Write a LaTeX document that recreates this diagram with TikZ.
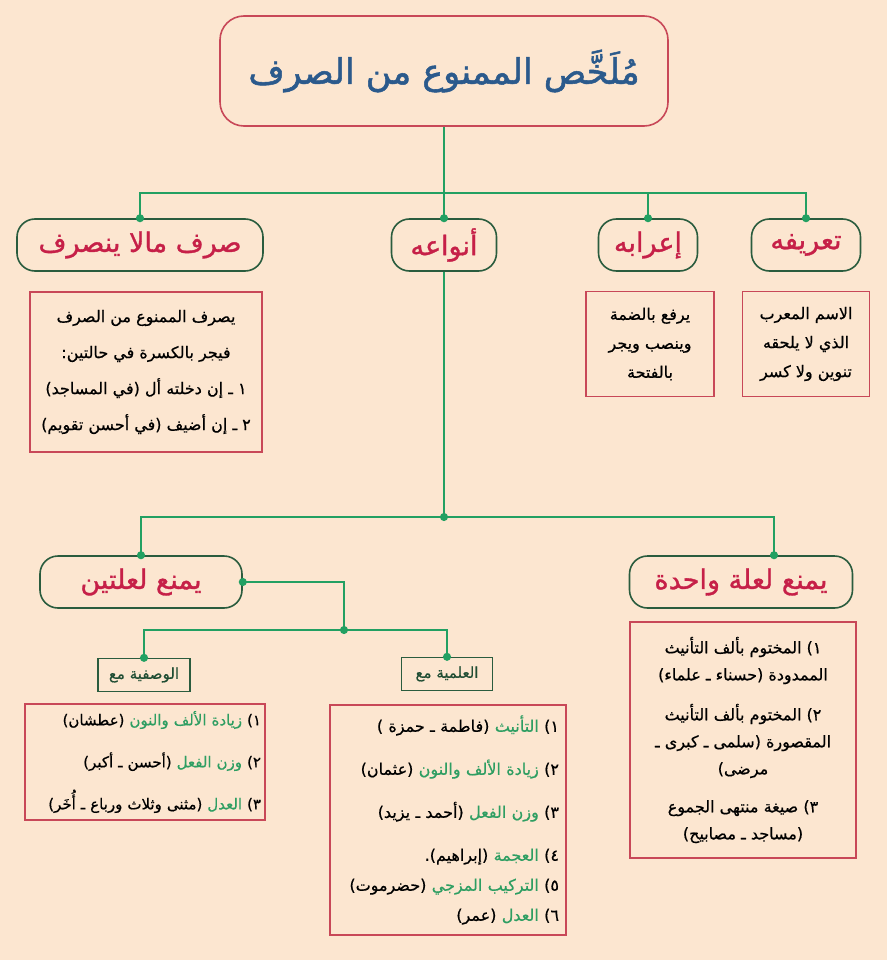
\documentclass[tikz,border=0pt]{standalone}
\usepackage{fontspec}
\usetikzlibrary{arrows.meta,positioning,calc}
\TeXXeTstate=1
\newfontfamily\arabicfont[Script=Arabic,FakeBold=0.6]{DejaVu Sans}
\newfontfamily\arabicred[Script=Arabic,Color=C62048,FakeBold=1.2]{DejaVu Sans}
\newfontfamily\arabicblue[Script=Arabic,Color=2B5A8C,FakeBold=1.5]{DejaVu Sans}
\newfontfamily\arabicgreen[Script=Arabic,Color=2E9E62,FakeBold=0.6]{DejaVu Sans}
\newfontfamily\arabicdark[Script=Arabic,Color=1F4D33,FakeBold=0.6]{DejaVu Sans}
\newcommand{\arl}[1]{\beginR #1\endR}
\definecolor{peach}{RGB}{252,230,208}
\definecolor{boxred}{RGB}{200,72,88}
\definecolor{pillgreen}{RGB}{42,92,62}
\definecolor{linkgreen}{RGB}{34,160,98}

\begin{document}
\begin{tikzpicture}[x=1pt,y=1pt,yscale=-1,
	titlebox/.style={draw=boxred,line width=1.6pt,rounded corners=24pt,minimum width=448pt,minimum height=110pt,inner sep=0pt},
	pill/.style={draw=pillgreen,line width=1.6pt,rounded corners=18pt,minimum height=52pt,inner sep=0pt,font=\arabicred\fontsize{27}{30}\selectfont},
	textbox/.style={draw=boxred,line width=1.4pt,inner sep=0pt,align=center},
	listbox/.style={draw=boxred,line width=1.4pt,inner sep=0pt,align=right},
	tagbox/.style={draw=pillgreen,line width=1.4pt,minimum height=33pt,inner sep=0pt,font=\arabicdark\fontsize{15}{17}\selectfont},
	link/.style={draw=linkgreen,line width=1.6pt},
	dot/.style={-{Circle[length=8pt,width=8pt]},shorten >=-4pt}
	]
	\useasboundingbox (0,0) rectangle (887,960);
	\fill[peach] (0,0) rectangle (887,960);
	
	% Title
	\node[titlebox] (title) at (444,71) {\arabicblue\fontsize{35}{44}\selectfont\arl{مُلَخَّص الممنوع من الصرف}};
	
	% First row
	\node[pill,minimum width=246pt] (conv) at (140,245) {\arl{صرف مالا ينصرف}};
	\node[pill,minimum width=105pt] (kinds) at (444,245) {\arl{أنواعه}};
	\node[pill,minimum width=99pt] (irab) at (648,245) {\arl{إعرابه}};
	\node[pill,minimum width=109pt] (defn) at (806,245) {\arl{تعريفه}};
	
	\node[textbox,minimum width=232pt,minimum height=160pt,font=\arabicfont\fontsize{16}{36}\selectfont] (convtxt) at (146,372)
	{\arl{يصرف الممنوع من الصرف}\\\arl{فيجر بالكسرة في حالتين:}\\\arl{١ ـ إن دخلته أل (في المساجد)}\\\arl{٢ ـ إن أضيف (في أحسن تقويم)}};
	\node[textbox,minimum width=128pt,minimum height=105pt,font=\arabicfont\fontsize{16}{29}\selectfont] (irabtxt) at (650,344)
	{\arl{يرفع بالضمة}\\\arl{وينصب ويجر}\\\arl{بالفتحة}};
	\node[textbox,minimum width=127pt,minimum height=105pt,font=\arabicfont\fontsize{16}{29}\selectfont] (defntxt) at (806,344)
	{\arl{الاسم المعرب}\\\arl{الذي لا يلحقه}\\\arl{تنوين ولا كسر}};
	
	% Second row
	\node[pill,minimum width=202pt] (two) at (141,582) {\arl{يمنع لعلتين}};
	\node[pill,minimum width=223pt] (one) at (741,582) {\arl{يمنع لعلة واحدة}};
	
	\node[textbox,minimum width=226pt,minimum height=236pt,font=\arabicfont\fontsize{16}{27}\selectfont] (onetxt) at (743,740)
	{\arl{١) المختوم بألف التأنيث}\\\arl{الممدودة (حسناء ـ علماء)}\\[13pt]\arl{٢) المختوم بألف التأنيث}\\\arl{المقصورة (سلمى ـ كبرى ـ}\\\arl{مرضى)}\\[11pt]\arl{٣) صيغة منتهى الجموع}\\\arl{(مساجد ـ مصابيح)}};
	
	% Third row
	\node[tagbox,minimum width=92pt] (wasf) at (144,675) {\arl{الوصفية مع}};
	\node[tagbox,minimum width=91pt] (alam) at (447,674) {\arl{العلمية مع}};
	
	\node[listbox,minimum width=240pt,minimum height=116pt,text width=232pt,font=\arabicfont\fontsize{15}{42}\selectfont] (wasftxt) at (145,762)
	{\arl{١) {\arabicgreen زيادة الألف والنون} (عطشان)}\\
	 \arl{٢) {\arabicgreen وزن الفعل} (أحسن ـ أكبر)}\\
	 \arl{٣) {\arabicgreen العدل} (مثنى وثلاث ورباع ـ أُخَر)}};
	\node[listbox,minimum width=236pt,minimum height=230pt,text width=222pt,font=\arabicfont\fontsize{16}{30}\selectfont] (alamtxt) at (448,820)
	{\arl{١) {\arabicgreen التأنيث} (فاطمة ـ حمزة )}\\[13pt]
	 \arl{٢) {\arabicgreen زيادة الألف والنون} (عثمان)}\\[13pt]
	 \arl{٣) {\arabicgreen وزن الفعل} (أحمد ـ يزيد)}\\[13pt]
	 \arl{٤) {\arabicgreen العجمة} (إبراهيم).}\\
	 \arl{٥) {\arabicgreen التركيب المزجي} (حضرموت)}\\
	 \arl{٦) {\arabicgreen العدل} (عمر)}};
	
	% Connectors
	\coordinate (bus1) at (444,193);
	\coordinate (bus2) at (444,517);
	\coordinate (bus3) at (344,630);
	\draw[link] (title.south) -- (bus1);
	\draw[link,dot] (bus1) -| (conv.north);
	\draw[link,dot] (bus1) -- (kinds.north);
	\draw[link,dot] (bus1) -| (irab.north);
	\draw[link,dot] (bus1) -| (defn.north);
	\draw[link,dot] (kinds.south) -- (bus2);
	\draw[link,dot] (bus2) -| (two.north);
	\draw[link,dot] (bus2) -| ([xshift=33pt]one.north);
	\draw[link,{Circle[length=8pt,width=8pt]}-{Circle[length=8pt,width=8pt]},shorten <=-4pt,shorten >=-4pt] (two.east) -| (bus3);
	\draw[link,dot] (bus3) -| (wasf.north);
	\draw[link,dot] (bus3) -| (alam.north);
\end{tikzpicture}
\end{document}
